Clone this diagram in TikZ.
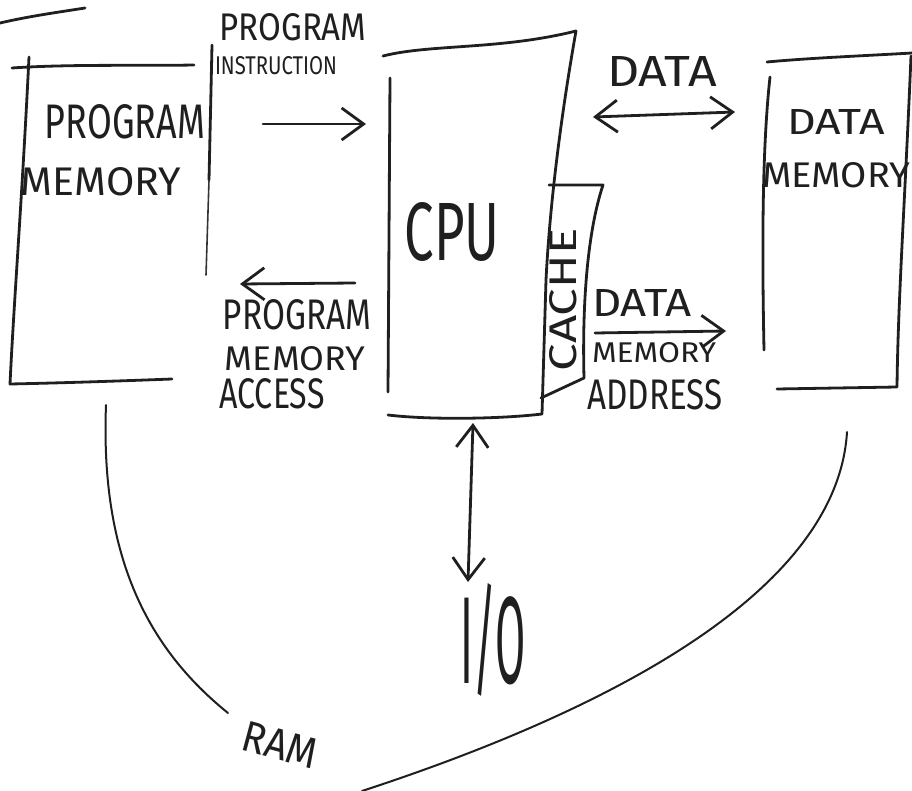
\documentclass[tikz,border=0pt]{standalone}
\usepackage{fontspec}
\setmainfont{Fira Sans}
\usepackage{graphicx}
\usetikzlibrary{arrows.meta}

% text squeezed into a given width and cap height (in pt)
\newcommand{\hw}[3]{\resizebox{#1pt}{#2pt}{#3}}

\tikzset{
  ink/.style={line width=2.8pt, line cap=round, line join=round, black!88},
  faint/.style={line width=1.6pt, line cap=round, black!80},
  thin ink/.style={line width=2pt, line cap=round, black!88},
  lbl/.style={inner sep=0pt, font=\fontsize{30}{36}\selectfont, text=black!88},
  tip/.tip={Straight Barb[length=22pt,width=32pt]},
  onehead/.style={ink, -tip},
  twohead/.style={ink, tip-tip},
}

\begin{document}
\begin{tikzpicture}[x=1pt, y=-1pt]
\useasboundingbox (0,0) rectangle (912,791);

% title underline
\coordinate (ul-a) at (0,23);
\coordinate (ul-b) at (85,8);
\draw[ink] (ul-a) .. controls (30,16) and (60,12) .. (ul-b);

% ---------- program memory ----------
\draw[ink] (12,68) .. controls (70,64) and (140,66) .. (194,65);
\draw[ink] (29,57) .. controls (22,200) and (14,300) .. (10,384)
           .. controls (60,383) and (120,381) .. (172,379);
\draw[ink] (212,45) -- (209,180);
\draw[faint] (209,180) -- (206,275);
\node[lbl] (pm1) at (125,122) {\hw{160}{34}{PROGRAM}};
\node[lbl] (pm2) at (101,182) {\hw{160}{28}{MEMORY}};

% ---------- CPU ----------
\draw[ink] (383,56) .. controls (430,44) and (500,50) .. (576,31)
           .. controls (562,110) and (550,200) .. (546,280) -- (542,414)
           .. controls (500,419) and (430,420) .. (388,415);
\draw[ink] (390,78) -- (388,392);
\node[lbl] (cpu) at (452,232) {\hw{95}{58}{CPU}};

% cache slice on the right of the CPU
\draw[ink] (549,185) -- (603,185)
           .. controls (588,230) and (582,300) .. (584,378) -- (541,398);
\node[lbl, rotate=90] (cache) at (563,300) {\hw{143}{27}{CACHE}};

% ---------- data memory ----------
\draw[ink] (767,62) .. controls (810,58) and (860,56) .. (912,53);
\draw[ink] (770,77) .. controls (762,150) and (762,250) .. (764,350);
\draw[ink] (911,56) .. controls (905,200) and (898,300) .. (897,387) -- (777,389);
\node[lbl] (dm1) at (836,122) {\hw{98}{25}{DATA}};
\node[lbl] (dm2) at (836,175) {\hw{148}{25}{MEMORY}};

% ---------- program instruction ----------
\coordinate (pi-a) at (263,124);
\coordinate (pi-b) at (366,124);
\draw[onehead] (pi-a) -- (pi-b);
\node[lbl] (pi1) at (293,27) {\hw{147}{27}{PROGRAM}};
\node[lbl] (pi2) at (276,66) {\hw{122}{18}{INSTRUCTION}};

% ---------- program memory access ----------
\coordinate (pa-a) at (355,283);
\coordinate (pa-b) at (240,284);
\draw[onehead] (pa-a) -- (pa-b);
\node[lbl] (pa1) at (297,315) {\hw{148}{30}{PROGRAM}};
\node[lbl] (pa2) at (295,359) {\hw{140}{24}{MEMORY}};
\node[lbl] (pa3) at (272,394) {\hw{105}{30}{ACCESS}};

% ---------- data ----------
\coordinate (dt-a) at (593,117);
\coordinate (dt-b) at (735,112);
\draw[twohead] (dt-a) -- (dt-b);
\node[lbl] (dt) at (662,72) {\hw{110}{30}{DATA}};

% ---------- data memory address ----------
\coordinate (da-a) at (595,333);
\coordinate (da-b) at (726,331);
\draw[onehead] (da-a) -- (da-b);
\node[lbl] (da1) at (642,303) {\hw{100}{27}{DATA}};
\node[lbl] (da2) at (654,353) {\hw{124}{20}{MEMORY}};
\node[lbl] (da3) at (655,395) {\hw{135}{30}{ADDRESS}};

% ---------- I/O ----------
\coordinate (io-a) at (473,423);
\coordinate (io-b) at (468,582);
\draw[twohead] (io-a) -- (io-b);
\node[lbl] (io) at (493,640) {\hw{65}{100}{I/O}};

% ---------- RAM ----------
\draw[thin ink] (106,405) .. controls (100,560) and (150,650) .. (228,713);
\draw[thin ink] (847,432) .. controls (838,580) and (640,700) .. (362,791);
\node[lbl, rotate=-15] (ram) at (280,745) {\hw{76}{30}{RAM}};

\end{tikzpicture}
\end{document}
